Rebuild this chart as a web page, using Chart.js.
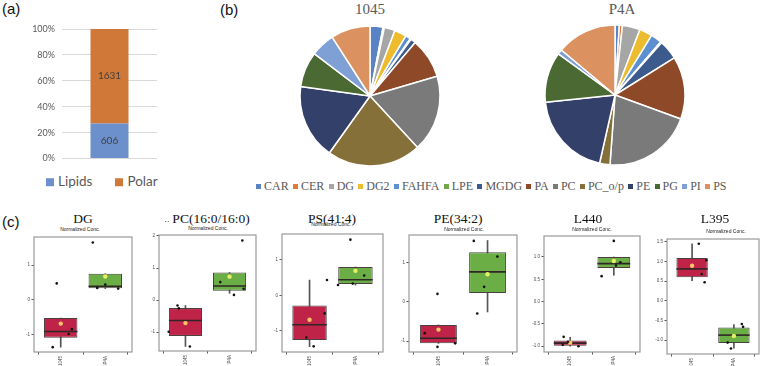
<!DOCTYPE html>
<html>
<head>
<meta charset="utf-8">
<script src="https://cdn.jsdelivr.net/npm/chart.js@4.4.1/dist/chart.umd.min.js"></script>
<style>
body{margin:0;width:764px;height:366px;position:relative;overflow:hidden;background:#fff;font-family:"Liberation Sans",Arial,sans-serif}
canvas{position:absolute}
.t{position:absolute;transform:translate(-50%,-50%);white-space:nowrap;line-height:1}
.lbl{position:absolute;font-size:15px;color:#111;line-height:1;transform:translateY(-50%)}
.leg{position:absolute;display:flex;align-items:center;white-space:nowrap;transform:translateY(-50%);line-height:1}
.leg i{display:inline-block}
</style>
</head>
<body>
<div class="lbl" style="left:2px;top:8px">(a)</div>
<div class="lbl" style="left:220px;top:9px">(b)</div>
<div class="lbl" style="left:2px;top:221px">(c)</div>
<script>
// (a) composition
const compClasses = ['Lipids', 'Polar'];
const compCounts = [606, 1631];

// (b) lipid class shares (%)
const lipidClasses = ['CAR','CER','DG','DG2','FAHFA','LPE','MGDG','PA','PC','PC_o/p','PE','PG','PI','PS'];
const share1045 = [3.0, 0.3, 2.5, 2.8, 1.2, 0.2, 1.2, 9.3, 17.7, 21.8, 17.3, 8.2, 5.6, 9.1];
const shareP4A  = [1.0, 0.7, 4.1, 3.0, 2.5, 0.3, 4.5, 14.5, 20.6, 2.4, 19.8, 11.7, 1.1, 13.9];
const pieTitles = ['1045', 'P4A'];

// (c) box plots, normalized concentration
const groups = ['1045', 'P4A'];
const boxTitles = ['DG', 'PC(16:0/16:0)', 'PS(41:4)', 'PE(34:2)', 'L440', 'L395'];
const yMin = [-1.51, -1.59, -1.60, -1.28, -1.13, -1.35];
const yMax = [1.81, 2.03, 1.73, 1.70, 1.47, 1.57];
const yTicks = [[-1,0,1], [-1,0,1,2], [-1,0,1], [-1,0,1], [-1,-0.5,0,0.5,1], [-1,-0.5,0,0.5,1,1.5]];
const q1      = [[-1.10,0.33], [-1.12,0.29], [-1.26,0.32], [-1.06,0.22], [-0.99,0.75], [0.60,-1.07]];
const q3      = [[-0.53,0.75], [-0.25,0.86], [-0.29,0.80], [-0.59,1.26], [-0.87,1.00], [1.09,-0.68]];
const medians = [[-0.92,0.39], [-0.64,0.44], [-0.83,0.44], [-0.93,0.76], [-0.93,0.85], [0.81,-0.87]];
const means   = [[-0.69,0.67], [-0.72,0.73], [-0.69,0.69], [-0.71,0.70], [-0.92,0.91], [0.89,-0.89]];
const whiskLo = [[-1.37,0.32], [-1.45,0.21], [-1.45,0.29], [-1.06,-0.26], [-1.00,0.59], [0.51,-1.20]];
const whiskHi = [[-0.53,0.75], [-0.17,0.86], [0.43,0.80], [-0.59,1.56], [-0.80,1.00], [1.45,-0.60]];
// samples per group, and their horizontal jitter in category units
const sampleY = [
  [[-1.37,0.47,-0.99,-0.85], [1.65,0.34,0.44,0.32]],
  [[-0.17,-0.26,-0.99,-1.45], [1.86,0.56,0.16,0.35]],
  [[0.43,-0.51,-1.19,-1.44], [1.57,0.56,0.33,0.29]],
  [[-0.80,0.20,-1.15,-1.06], [1.55,1.15,0.38,-0.30]],
  [[-0.79,-0.90,-1.00,-0.97], [1.36,0.57,0.81,0.88]],
  [[1.45,1.03,0.68,0.47], [-0.59,-0.66,-1.06,-1.21]]
];
const sampleJit = [
  [[-0.18,-0.09,0.18,0.25], [-0.28,-0.18,0,0.29]],
  [[-0.18,-0.15,-0.38,0.10], [0.29,-0.21,0.10,0.32]],
  [[0.38,0.33,-0.07,0.09], [-0.11,0.19,-0.06,-0.38]],
  [[-0.28,-0.02,-0.02,0.34], [-0.28,0.20,-0.07,-0.21]],
  [[-0.15,-0.05,0.19,-0.17], [0,-0.28,0.05,0.15]],
  [[0.16,0.34,0.23,0.30], [0.19,0.22,-0.15,-0.07]]
];

// layout / styles
const compColors = ['#6B90CB', '#CF7838'];
const lipidColors = ['#5A83C6','#E27A36','#A6A6A6','#EDBB2E','#5B8FCF','#72A84A','#3C5A8C',
                     '#8E4A28','#7A7A7A','#86703A','#33406A','#4B6A33','#7EA0D5','#DB9160'];
const boxFill = ['#BF2448', '#6AAE45'];
const meanFill = ['#FFC466', '#E6F266'];
const plotRects = [[34,235,134,352], [159,233,258,351], [282,232,385,352], [409,233,519,352], [544,234,642,352], [667,237,761,354]];
const titleX = [83, 211, 332, 458, 588, 715];
const subX = [80, 208, 331, 464, 592, 726];
const subY = [229.3, 228.3, 224, 229, 229, 230.7];

Chart.defaults.animation = false;
Chart.defaults.responsive = false;
Chart.defaults.plugins.tooltip.enabled = false;
Chart.defaults.plugins.legend.display = false;

function addCanvas(x, y, w, h){
  const c = document.createElement('canvas');
  c.width = w; c.height = h;
  c.style.left = x + 'px'; c.style.top = y + 'px';
  document.body.appendChild(c);
  return c;
}
function addText(txt, x, y, css){
  const d = document.createElement('div');
  d.className = 't'; d.textContent = txt;
  d.style.left = x + 'px'; d.style.top = y + 'px';
  d.style.cssText += css;
  document.body.appendChild(d);
}
function addLegend(x, y, names, colors, box, gapBox, gapItem, css){
  const d = document.createElement('div');
  d.className = 'leg';
  d.style.left = x + 'px'; d.style.top = y + 'px';
  d.style.cssText += css;
  names.forEach((n, i) => {
    const s = document.createElement('span');
    s.style.display = 'flex'; s.style.alignItems = 'center';
    if(i < names.length - 1) s.style.marginRight = gapItem + 'px';
    s.innerHTML = `<i style="width:${box}px;height:${box}px;background:${colors[i]};margin-right:${gapBox}px"></i>${n}`;
    d.appendChild(s);
  });
  document.body.appendChild(d);
}

// ---- (a) stacked 100% bar
const total = compCounts.reduce((a, b) => a + b, 0);
const countLabels = {
  id: 'countLabels',
  afterDatasetsDraw(chart){
    const ctx = chart.ctx;
    ctx.save();
    ctx.font = '10px Lato'; ctx.fillStyle = '#404040';
    ctx.textAlign = 'center'; ctx.textBaseline = 'middle';
    chart.data.datasets.forEach((ds, i) => {
      chart.getDatasetMeta(i).data.forEach(el => {
        ctx.fillText(ds.count, el.x, (el.y + el.base) / 2);
      });
    });
    ctx.restore();
  }
};
new Chart(addCanvas(0, 0, 175, 170), {
  type: 'bar',
  data: {
    labels: [''],
    datasets: compClasses.map((c, i) => ({
      label: c, data: [compCounts[i] / total * 100], count: compCounts[i],
      backgroundColor: compColors[i], barPercentage: 0.4, categoryPercentage: 1
    }))
  },
  options: {
    layout: {padding: {top: 29, right: 18, bottom: 11.5, left: 0}},
    scales: {
      x: {stacked: true, display: false},
      y: {
        stacked: true, min: 0, max: 100,
        afterFit: s => { s.width = 62; s.paddingTop = 0; s.paddingBottom = 0; },
        grid: {color: '#D9D9D9', drawTicks: false},
        border: {display: false},
        ticks: {stepSize: 10, padding: 7, color: '#595959', font: {family: 'Lato', size: 9}, callback: v => v + '%'}
      }
    }
  },
  plugins: [countLabels]
});
addLegend(46, 182, compClasses, compColors, 8, 4, 23, 'font-family:Lato;font-size:13.5px;color:#595959;');

// ---- (b) pies
[share1045, shareP4A].forEach((shares, p) => {
  const cx = [370, 615][p], cy = [96, 95][p];
  new Chart(addCanvas(cx - 75, cy - 75, 150, 150), {
    type: 'pie',
    data: {labels: lipidClasses, datasets: [{data: shares, backgroundColor: lipidColors, borderColor: '#fff', borderWidth: 1.5, hoverOffset: 0, radius: 70}]},
    options: {layout: {padding: 0}}
  });
  addText(pieTitles[p], [370, 622][p], 9, 'font-family:"Liberation Serif";font-size:15px;color:#595959;');
});
addLegend(256, 186, lipidClasses, lipidColors, 5, 3, 4.3, 'font-family:"Liberation Serif";font-size:12px;color:#595959;');

// ---- (c) box plots
const frame = {
  id: 'frame',
  beforeDatasetsDraw(chart){
    const a = chart.chartArea, ctx = chart.ctx;
    ctx.save(); ctx.strokeStyle = '#9A9A9A'; ctx.lineWidth = 1.2;
    ctx.strokeRect(a.left, a.top, a.right - a.left, a.bottom - a.top);
    ctx.restore();
  }
};
const medianLines = {
  id: 'medianLines',
  afterDatasetDraw(chart, args){
    const ds = chart.data.datasets[args.index];
    if(!ds.medians) return;
    const ctx = chart.ctx, ys = chart.scales.y;
    ctx.save(); ctx.strokeStyle = '#2E2626'; ctx.lineWidth = 1.6;
    args.meta.data.forEach((el, i) => {
      const y = ys.getPixelForValue(ds.medians[i]);
      ctx.beginPath(); ctx.moveTo(el.x - el.width / 2, y); ctx.lineTo(el.x + el.width / 2, y); ctx.stroke();
    });
    ctx.restore();
  }
};
const YW = 16, XH = 18, PAD = 2;
boxTitles.forEach((name, k) => {
  const [L, T, R, B] = plotRects[k];
  const cv = addCanvas(L - YW, T - PAD, R - L + YW + PAD, B - T + PAD + XH);
  const xs = groups.map((g, i) => i + 1);
  const pts = [];
  groups.forEach((g, i) => sampleY[k][i].forEach((v, j) => pts.push({x: xs[i] + sampleJit[k][i][j], y: v})));
  const dec = yTicks[k].some(v => v % 1 !== 0) ? 1 : 0;
  new Chart(cv, {
    type: 'bar',
    data: {
      datasets: [
        {type: 'scatter', data: pts, order: 0, pointRadius: 1.3, backgroundColor: '#111', borderWidth: 0},
        {type: 'scatter', data: xs.map((x, i) => ({x, y: means[k][i]})), order: 1, pointRadius: 2.2,
         backgroundColor: meanFill, borderWidth: 0},
        {data: xs.map((x, i) => ({x, y: [q1[k][i], q3[k][i]]})), medians: medians[k], order: 2,
         backgroundColor: boxFill, borderColor: '#4A4040', borderWidth: 1, borderSkipped: false,
         grouped: false, barPercentage: 0.75, categoryPercentage: 1},
        {data: xs.map((x, i) => ({x, y: [whiskLo[k][i], whiskHi[k][i]]})), order: 3,
         backgroundColor: '#555', barThickness: 1, grouped: false}
      ]
    },
    options: {
      layout: {padding: {top: PAD, right: PAD, left: 0, bottom: 0}},
      scales: {
        x: {
          type: 'linear', min: 0.4, max: 2.6, offset: false,
          afterBuildTicks: s => { s.ticks = xs.map(v => ({value: v})); },
          afterFit: s => { s.height = XH; s.paddingLeft = 0; s.paddingRight = 0; },
          grid: {drawOnChartArea: false, tickLength: 2.5, color: '#555'},
          border: {display: false},
          ticks: {minRotation: 90, maxRotation: 90, autoSkip: false, padding: 1.5, color: '#4D4D4D',
                  font: {size: 4.5}, callback: (v, i) => groups[i]}
        },
        y: {
          min: yMin[k], max: yMax[k],
          afterBuildTicks: s => { s.ticks = yTicks[k].map(v => ({value: v})); },
          afterFit: s => { s.width = YW; s.paddingTop = 0; s.paddingBottom = 0; },
          grid: {drawOnChartArea: false, tickLength: 2.5, color: '#555'},
          border: {display: false},
          ticks: {padding: 1.5, color: '#4D4D4D', font: {size: 4.5}, callback: v => v.toFixed(dec)}
        }
      }
    },
    plugins: [frame, medianLines]
  });
  addText(name, titleX[k], 218.5, 'font-family:"Liberation Serif";font-size:13.5px;color:#111;');
  addText('Normalized Conc.', subX[k], subY[k], 'font-size:5px;color:#222;');
});
addText('..', 167, 219, 'font-size:9px;color:#444;');
</script>
</body>
</html>
